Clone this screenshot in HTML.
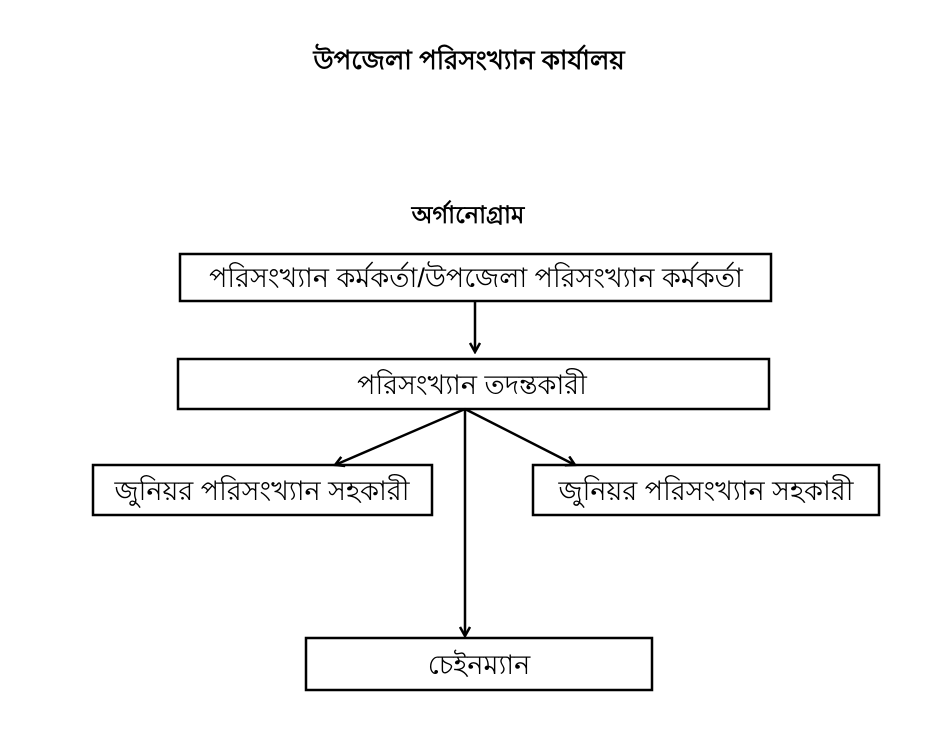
<!DOCTYPE html>
<html><head><meta charset="utf-8"><style>
html,body{margin:0;padding:0;background:#fff;width:941px;height:755px;overflow:hidden}
text{font-family:"Liberation Sans","Noto Sans CJK SC",sans-serif;fill:#000}
</style></head><body>
<svg width="941" height="755" viewBox="0 0 941 755" xmlns="http://www.w3.org/2000/svg">
<defs><marker id="a" markerWidth="12" markerHeight="12" refX="10" refY="6" orient="auto" markerUnits="userSpaceOnUse">
<path d="M1,1 L10,6 L1,11" fill="none" stroke="#000" stroke-width="2.5"/></marker></defs>
<text x="469" y="69" text-anchor="middle" font-size="26" font-weight="bold">উপজেলা পরিসংখ্যান কার্যালয়</text>
<text x="468" y="223" text-anchor="middle" font-size="24" font-weight="bold">অর্গানোগ্রাম</text>
<g fill="none" stroke="#000" stroke-width="2.5">
<rect x="180" y="254" width="591" height="47"/>
<rect x="178" y="359" width="591" height="50"/>
<rect x="93" y="465" width="339" height="50"/>
<rect x="533" y="465" width="346" height="50"/>
<rect x="306" y="638" width="346" height="52"/>
<line x1="475" y1="301" x2="475" y2="352" marker-end="url(#a)"/>
<line x1="465" y1="409" x2="335" y2="465" marker-end="url(#a)"/>
<line x1="465" y1="409" x2="575" y2="465" marker-end="url(#a)"/>
<line x1="465" y1="409" x2="465" y2="636" marker-end="url(#a)"/>
</g>
<g font-size="27" text-anchor="middle">
<text x="476" y="287">পরিসংখ্যান কর্মকর্তা/উপজেলা পরিসংখ্যান কর্মকর্তা</text>
<text x="472" y="394">পরিসংখ্যান তদন্তকারী</text>
<text x="262" y="500">জুনিয়র পরিসংখ্যান সহকারী</text>
<text x="706" y="500">জুনিয়র পরিসংখ্যান সহকারী</text>
<text x="479" y="674">চেইনম্যান</text>
</g>
</svg>
</body></html>
